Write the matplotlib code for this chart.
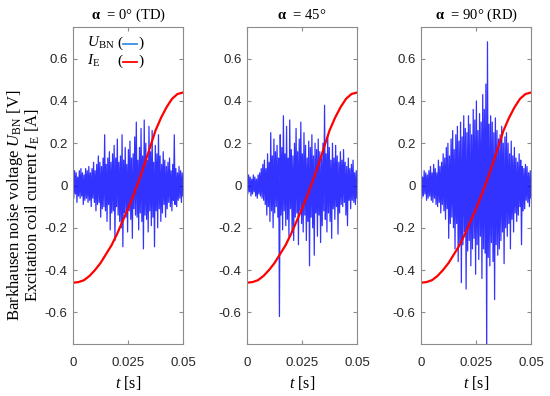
import numpy as np
import matplotlib
matplotlib.use("Agg")
import matplotlib.pyplot as plt

plt.rcParams['mathtext.fontset'] = 'custom'
plt.rcParams['mathtext.rm'] = 'Liberation Serif'
plt.rcParams['mathtext.it'] = 'Liberation Serif:italic'
plt.rcParams['mathtext.bf'] = 'Liberation Serif:bold'

# excitation current I_E [A], sampled every 2.5 ms
t_ie = [0.0, 0.0025, 0.005, 0.0075, 0.01, 0.0125, 0.015, 0.0175, 0.02, 0.0225, 0.025,
        0.0275, 0.03, 0.0325, 0.035, 0.0375, 0.04, 0.0425, 0.045, 0.0475, 0.05]
i_e = [-0.46, -0.457, -0.448, -0.428, -0.40, -0.367, -0.325, -0.283, -0.23, -0.17, -0.11,
       -0.045, 0.025, 0.10, 0.18, 0.26, 0.32, 0.37, 0.41, 0.433, 0.44]

# Barkhausen noise U_BN [V], peak values
u_td = [0.05, -0.06, 0.07, -0.04, 0.06, -0.08, 0.04, -0.05, 0.07, -0.06,
        0.08, -0.05, 0.06, -0.09, 0.05, -0.07, 0.08, -0.06, 0.07, -0.08,
        0.09, -0.07, 0.06, -0.10, 0.08, -0.06, 0.11, -0.08, 0.07, -0.12,
        0.10, -0.09, 0.14, -0.08, 0.11, -0.15, 0.09, -0.11, 0.13, -0.10,
        0.24, -0.12, 0.10, -0.17, 0.13, -0.09, 0.16, -0.21, 0.11, -0.13,
        0.15, -0.12, 0.19, -0.26, 0.13, -0.10, 0.22, -0.14, 0.11, -0.17,
        0.14, -0.20, 0.24, -0.29, 0.12, -0.13, 0.18, -0.15, 0.10, -0.22,
        0.17, -0.12, 0.21, -0.16, 0.13, -0.25, 0.15, -0.11, 0.23, -0.14,
        0.30, -0.15, 0.12, -0.21, 0.18, -0.13, 0.27, -0.17, 0.14, -0.30,
        0.31, -0.14, 0.20, -0.16, 0.12, -0.22, 0.28, -0.12, 0.16, -0.19,
        0.26, -0.15, 0.11, -0.29, 0.19, -0.12, 0.15, -0.20, 0.24, -0.11,
        0.14, -0.17, 0.10, -0.13, 0.16, -0.09, 0.12, -0.15, 0.09, -0.11,
        0.11, -0.08, 0.13, -0.10, 0.07, -0.12, 0.10, -0.07, 0.24, -0.09,
        0.08, -0.10, 0.06, -0.07, 0.09, -0.06, 0.07, -0.08, 0.06, -0.05]
u_45 = [0.03, -0.04, 0.05, -0.03, 0.04, -0.05, 0.03, -0.04, 0.05, -0.03,
        0.04, -0.05, 0.03, -0.06, 0.05, -0.04, 0.06, -0.05, 0.08, -0.06,
        0.10, -0.07, 0.12, -0.09, 0.08, -0.14, 0.15, -0.10, 0.11, -0.17,
        0.25, -0.12, 0.14, -0.20, 0.22, -0.13, 0.16, -0.10, 0.19, -0.15,
        0.13, -0.62, 0.24, -0.14, 0.18, -0.21, 0.33, -0.12, 0.15, -0.19,
        0.28, -0.16, 0.13, -0.24, 0.31, -0.11, 0.17, -0.22, 0.14, -0.26,
        0.20, -0.15, 0.27, -0.13, 0.16, -0.28, 0.22, -0.12, 0.30, -0.18,
        0.15, -0.22, 0.25, -0.14, 0.19, -0.26, 0.13, -0.17, 0.21, -0.38,
        0.18, -0.15, 0.24, -0.20, 0.14, -0.33, 0.20, -0.13, 0.17, -0.24,
        0.22, -0.14, 0.16, -0.27, 0.13, -0.19, 0.20, -0.12, 0.38, -0.16,
        0.15, -0.22, 0.24, -0.13, 0.18, -0.17, 0.12, -0.25, 0.20, -0.11,
        0.13, -0.16, 0.19, -0.10, 0.14, -0.23, 0.11, -0.13, 0.16, -0.09,
        0.12, -0.10, 0.17, -0.08, 0.11, -0.14, 0.09, -0.19, 0.13, -0.07,
        0.08, -0.11, 0.10, -0.07, 0.12, -0.08, 0.06, -0.09, 0.07, -0.06]
u_rd = [0.05, -0.06, 0.04, -0.05, 0.07, -0.04, 0.06, -0.07, 0.05, -0.06,
        0.07, -0.05, 0.09, -0.07, 0.06, -0.08, 0.10, -0.06, 0.08, -0.09,
        0.06, -0.10, 0.12, -0.08, 0.09, -0.13, 0.11, -0.09, 0.15, -0.12,
        0.13, -0.16, 0.18, -0.11, 0.20, -0.25, 0.14, -0.18, 0.22, -0.15,
        0.26, -0.20, 0.17, -0.30, 0.24, -0.18, 0.28, -0.36, 0.21, -0.27,
        0.30, -0.46, 0.23, -0.28, 0.33, -0.22, 0.27, -0.49, 0.25, -0.31,
        0.33, -0.26, 0.29, -0.38, 0.24, -0.30, 0.36, -0.25, 0.31, -0.42,
        0.40, -0.28, 0.26, -0.35, 0.34, -0.24, 0.30, -0.44, 0.43, -0.30,
        0.36, -0.32, 0.48, -0.80, 0.68, -0.34, 0.29, -0.38, 0.33, -0.27,
        0.30, -0.36, 0.25, -0.54, 0.32, -0.28, 0.26, -0.33, 0.22, -0.30,
        0.24, -0.26, 0.28, -0.22, 0.20, -0.37, 0.23, -0.20, 0.25, -0.24,
        0.20, -0.18, 0.15, -0.30, 0.21, -0.16, 0.14, -0.22, 0.18, -0.13,
        0.13, -0.17, 0.11, -0.14, 0.15, -0.10, 0.12, -0.28, 0.09, -0.12,
        0.08, -0.11, 0.10, -0.07, 0.09, -0.08, 0.06, -0.10, 0.07, -0.06]

titles = [r"$\mathbf{α}$  = 0° (TD)", r"$\mathbf{α}$  = 45°", r"$\mathbf{α}$  = 90° (RD)"]
noise = [u_td, u_45, u_rd]
x_ticks = [0, 0.025, 0.05]
x_ticklabels = ['0', '0.025', '0.05']
y_ticks = [-0.6, -0.4, -0.2, 0, 0.2, 0.4, 0.6]
y_ticklabels = ['-0.6', '-0.4', '-0.2', '0', '0.2', '0.4', '0.6']

fig = plt.figure(figsize=(5.5, 3.96), dpi=100)
lefts = [73 / 550, 247 / 550, 421 / 550]
serif = 'Liberation Serif'
sans = 'Liberation Sans'
spine_c = '#8c8c8c'

for k in range(3):
    ax = fig.add_axes([lefts[k], 52 / 396, 110 / 550, 317 / 396])
    u = noise[k]
    t = np.linspace(0, 0.05, len(u))
    ax.plot(t, u, color=(0, 0, 1), lw=0.9, alpha=0.8)
    ax.plot(t_ie, i_e, color='red', lw=1.6)
    ax.set_xlim(0, 0.05)
    ax.set_ylim(-0.75, 0.75)
    ax.set_xticks(x_ticks)
    ax.set_xticklabels(x_ticklabels, fontfamily=sans)
    ax.set_yticks(y_ticks)
    ax.set_yticklabels(y_ticklabels, fontfamily=sans)
    ax.tick_params(direction='in', length=3, top=True, right=True, color=spine_c,
                   labelsize=9.5, labelcolor='#262626')
    ax.tick_params(axis='y', pad=4)
    ax.tick_params(axis='x', pad=9)
    for s in ax.spines.values():
        s.set_color(spine_c)
        s.set_linewidth(0.8)
    ax.set_title(titles[k], fontfamily=serif, fontsize=10.5, pad=6)
    ax.set_xlabel(r"$t$ [s]", fontfamily=serif, fontsize=11.5, labelpad=4)

    if k == 0:
        # legend drawn by hand: name (line)
        ax.text(0.13, 0.949, r"$U_{\rm BN}$", transform=ax.transAxes, fontsize=11,
                family=serif, va='center')
        ax.text(0.13, 0.893, r"$I_{\rm E}$", transform=ax.transAxes, fontsize=11,
                family=serif, va='center')
        for yy, c in [(0.949, '#3a8ee6'), (0.893, 'red')]:
            ax.text(0.40, yy, "(", transform=ax.transAxes, fontsize=11, family=serif, va='center')
            ax.text(0.595, yy, ")", transform=ax.transAxes, fontsize=11, family=serif, va='center')
            ax.plot([0.45, 0.58], [yy - 0.003, yy - 0.003], transform=ax.transAxes, color=c, lw=1.3)

fig.text(0.027, 0.482, r"Barkhausen noise voltage $U_{\rm BN}$ [V]", rotation=90,
         family=serif, fontsize=12, ha='center', va='center')
fig.text(0.059, 0.482, r"Excitation coil current $I_{\rm E}$ [A]", rotation=90,
         family=serif, fontsize=12, ha='center', va='center')

fig.savefig('out.png', dpi=100)
